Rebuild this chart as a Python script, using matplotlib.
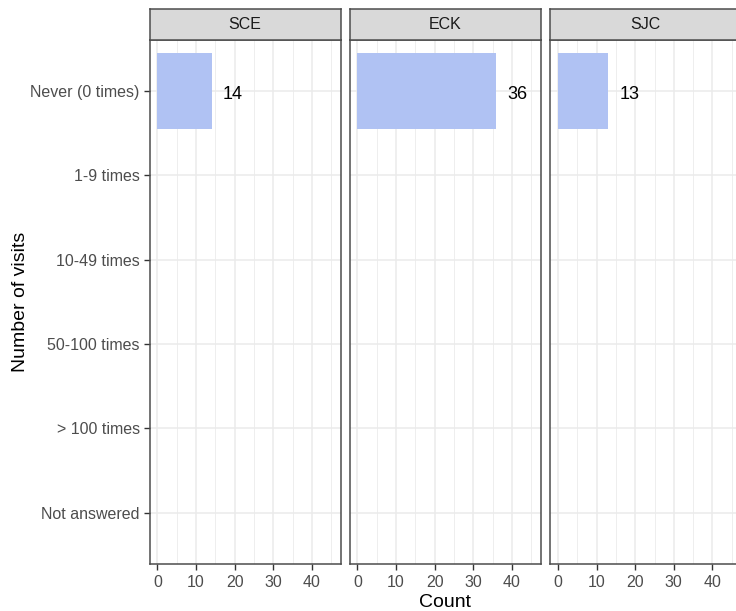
import matplotlib
matplotlib.use("Agg")
import matplotlib.pyplot as plt
import numpy as np

plt.rcParams["font.family"] = ["Liberation Sans", "DejaVu Sans"]

categories = ["Never (0 times)", "1-9 times", "10-49 times", "50-100 times",
              "> 100 times", "Not answered"]
facets = ["SCE", "ECK", "SJC"]
counts = {
    "SCE": [14, 0, 0, 0, 0, 0],
    "ECK": [36, 0, 0, 0, 0, 0],
    "SJC": [13, 0, 0, 0, 0, 0],
}
x_ticks = [0, 10, 20, 30, 40]

BAR = "#B0C2F3"
GRID = "#EBEBEB"
BORDER = "#4D4D4D"
W, H = 736, 611

fig = plt.figure(figsize=(W / 100, H / 100), dpi=100)

panel_left = [149.5, 349.5, 550]
panel_w = 191
top, bottom = 40, 563.5
strip_top = 9

y = np.arange(len(categories))
for i, (name, px) in enumerate(zip(facets, panel_left)):
    ax = fig.add_axes([px / W, (H - bottom) / H, panel_w / W, (bottom - top) / H])
    vals = counts[name]
    for g in np.arange(5, 50, 10):
        ax.axvline(g, color=GRID, lw=0.6, zorder=0)
    for g in x_ticks:
        ax.axvline(g, color=GRID, lw=1.1, zorder=0)
    for g in y:
        ax.axhline(g, color=GRID, lw=1.1, zorder=0)
    ax.barh(y, vals, height=0.9, color=BAR, zorder=2)
    for yi, v in zip(y, vals):
        if v > 0:
            ax.text(v + 5.5, yi + 0.02, str(v), ha="center", va="center_baseline",
                    fontsize=13, color="black", zorder=3)
    ax.set_xlim(-2.07, 47.4)
    ax.set_ylim(len(categories) - 0.4, -0.6)
    ax.set_xticks(x_ticks)
    ax.set_xticklabels([str(t) for t in x_ticks], fontsize=11.5, color="#4D4D4D")
    ax.set_yticks(y)
    ax.tick_params(axis="both", length=4, width=1, color="#333333", pad=3)
    ax.tick_params(axis="x", pad=4.5)
    if i == 0:
        ax.set_yticklabels(categories, fontsize=11.5, color="#4D4D4D")
        ax.set_ylabel("Number of visits", fontsize=14, labelpad=1)
    else:
        ax.set_yticklabels([])
        ax.tick_params(axis="y", length=0)
    if i == 1:
        ax.set_xlabel("Count", fontsize=14, labelpad=3)
    for s in ax.spines.values():
        s.set_color(BORDER)
        s.set_linewidth(1.1)

    sax = fig.add_axes([px / W, (H - top) / H, panel_w / W, (top - strip_top) / H])
    sax.set_facecolor("#D9D9D9")
    sax.set_xticks([])
    sax.set_yticks([])
    for s in sax.spines.values():
        s.set_color(BORDER)
        s.set_linewidth(1.1)
    sax.text(0.5, 0.5, name, transform=sax.transAxes, ha="center", va="center",
             fontsize=11.5, color="#1A1A1A")

fig.savefig("out.png", dpi=100)
